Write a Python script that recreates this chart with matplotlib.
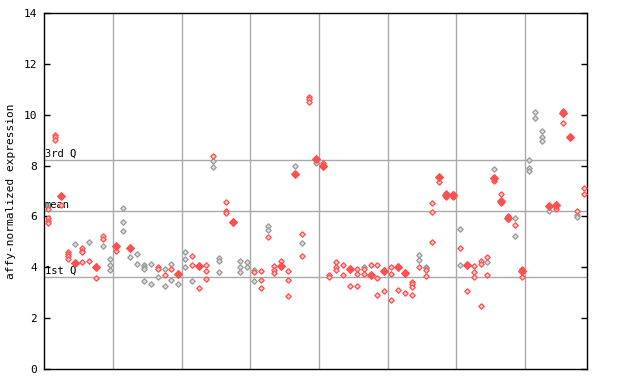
import matplotlib
matplotlib.use('Agg')
from matplotlib import pyplot as plt

# replicate values per sample (open diamonds)
reps = [
    [6.28, 5.93, 5.83, 5.75], [9.20, 9.11, 9.00], [6.45], [4.61, 4.52, 4.43, 4.34],
    [4.92], [4.75, 4.65, 4.60, 4.21], [4.99, 4.25], [3.57],
    [5.23, 5.12, 4.84], [4.33, 4.08, 3.89], [4.64], [6.32, 5.77, 5.41],
    [4.39], [4.51, 4.12], [4.08, 4.00, 3.92, 3.46], [4.12, 3.33],
    [4.00, 3.92, 3.63], [3.92, 3.70, 3.25], [4.13, 3.92, 3.50], [3.33],
    [4.60, 4.31, 4.00], [4.44, 4.09, 3.46], [3.17], [4.08, 3.85, 3.54],
    [8.38, 8.17, 7.96], [4.36, 4.23, 3.80], [6.55, 6.22, 6.12], [],
    [4.23, 4.03, 3.81], [4.21, 4.00], [3.89, 3.80, 3.45], [3.85, 3.50, 3.18],
    [5.64, 5.47, 5.18], [4.05, 3.89, 3.76], [4.25], [3.85, 3.50, 2.86],
    [7.98], [5.31, 4.94, 4.43], [10.71, 10.60, 10.50], [8.09],
    [8.12], [3.71, 3.62], [4.21, 4.03, 3.89], [4.08, 3.68],
    [3.25], [3.92, 3.72, 3.25], [4.03, 3.94, 3.72], [4.08],
    [4.08, 3.57, 2.90], [3.05], [4.03, 3.72, 2.70], [3.09],
    [2.98], [3.43, 3.34, 3.24, 2.90], [4.47, 4.27, 4.03], [4.03, 3.96, 3.89, 3.64],
    [6.51, 6.16, 4.98], [7.37], [6.93, 6.77], [6.90, 6.75],
    [5.49, 4.75, 4.08], [3.05], [4.05, 3.81, 3.63], [4.23, 4.13, 2.47],
    [4.40, 4.21, 3.68], [7.85, 7.40], [6.90, 6.51], [6.02, 5.89],
    [5.93, 5.65, 5.22], [3.93, 3.63], [8.20, 7.89, 7.80], [10.09, 9.86],
    [9.35, 9.11, 8.95], [6.22], [6.30], [10.13, 9.66],
    [], [6.22, 6.05, 5.99], [7.10, 6.90],
]

# colour of each replicate: r = red, g = grey
reps_kind = [
    'rrrr', 'rrr', 'r', 'rrrr',
    'g', 'rrrr', 'gr', 'r',
    'rrg', 'ggg', 'r', 'ggg',
    'g', 'gg', 'gggg', 'gg',
    'rrg', 'grg', 'grg', 'g',
    'ggg', 'rrg', 'r', 'rrr',
    'rgg', 'ggg', 'rrr', '',
    'ggg', 'gg', 'grg', 'rrr',
    'ggr', 'rrr', 'r', 'rrr',
    'g', 'rgr', 'rrr', 'g',
    'r', 'rr', 'rrr', 'rr',
    'r', 'rrr', 'grr', 'r',
    'rrr', 'r', 'rrr', 'r',
    'r', 'rrrr', 'ggr', 'ggrr',
    'rrr', 'r', 'rr', 'rr',
    'grg', 'r', 'rrr', 'rrr',
    'rgr', 'gr', 'rr', 'rr',
    'grg', 'rr', 'ggg', 'gg',
    'ggg', 'g', 'r', 'rr',
    '', 'rgg', 'rr',
]

# highlighted value per sample (filled diamonds), None if absent
filled = [
    None, None, 6.81, None, 4.16, None, None, 4.02, None, None,
    4.85, None, 4.77, None, None, None, None, None, None, 3.72,
    None, None, 4.05, None, None, None, None, 5.77, None, None,
    None, None, None, None, 4.05, None, 7.68, None, None, 8.27,
    7.98, None, None, None, 3.94, None, None, 3.68, None, 3.87,
    None, 4.00, 3.76, None, None, None, None, 7.56, 6.85, 6.84,
    None, 4.10, None, None, None, 7.50, 6.60, 5.95, None, 3.87,
    None, None, None, 6.42, 6.46, 10.07, 9.14, None, None,
]

quartiles = [3.61, 6.20, 8.22]
quart_labels = ['1st Q', 'mean', '3rd Q']

RED = '#ff5050'
GREY = '#999999'
GRID = '#aaaaaa'
FONT = 'DejaVu Sans Mono'

fig = plt.figure(figsize=(6.4, 3.84), dpi=100)
ax = fig.add_axes([44.3 / 640, 1 - 369 / 384, (587 - 44.3) / 640, (369 - 13) / 384])

n = len(reps)
for b in range(10, n, 10):
    ax.axvline(b - 0.5, color=GRID, lw=1, zorder=1)
for q, lab in zip(quartiles, quart_labels):
    ax.axhline(q, color=GRID, lw=1, zorder=1)
    ax.text(-0.4, q + 0.05, lab, fontsize=7.5, family=FONT, va='bottom', ha='left', zorder=2)

pts = {'r': ([], []), 'g': ([], [])}
for i, (vals, kinds) in enumerate(zip(reps, reps_kind)):
    for v, k in zip(vals, kinds):
        pts[k][0].append(i)
        pts[k][1].append(v)
ax.plot(*pts['g'], ls='none', marker='D', ms=2.8, mfc='#dddddd', mec=GREY, mew=0.9, zorder=3)
ax.plot(*pts['r'], ls='none', marker='D', ms=2.8, mfc='#ffc8c8', mec=RED, mew=0.9, zorder=3)

fx = [i for i, v in enumerate(filled) if v is not None]
fy = [v for v in filled if v is not None]
ax.plot(fx, fy, ls='none', marker='D', ms=3.8, mfc=RED, mec=RED, mew=0.8, zorder=4)

ax.set_xlim(-0.5, n - 0.5)
ax.set_ylim(0, 14)
ax.set_yticks(range(0, 15, 2))
ax.set_xticks([])
ax.tick_params(axis='y', direction='in', length=4.5, width=1, right=True, pad=5, labelsize=8)
for t in ax.get_yticklabels():
    t.set_family(FONT)
for s in ax.spines.values():
    s.set_linewidth(1)
ax.set_ylabel('affy-normalized expression', family=FONT, fontsize=8, labelpad=6)

fig.savefig('out.png', dpi=100)
